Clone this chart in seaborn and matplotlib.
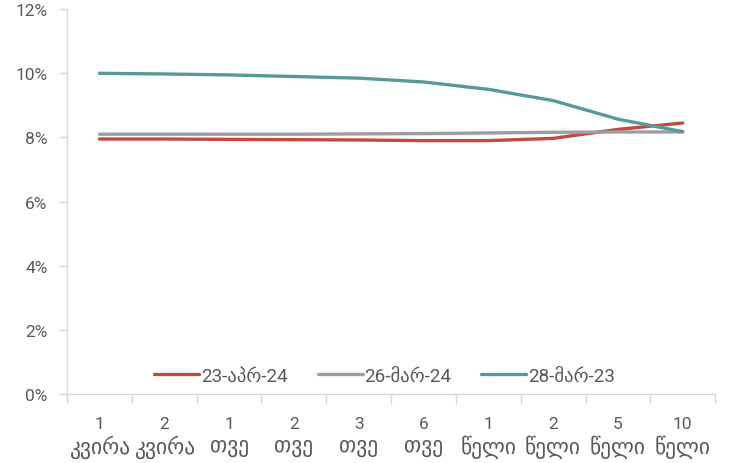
import matplotlib
matplotlib.use("Agg")
import matplotlib.pyplot as plt
import seaborn as sns
import pandas as pd
from matplotlib.ticker import FixedLocator, FuncFormatter

tenor_numbers = ["1", "2", "1", "2", "3", "6", "1", "2", "5", "10"]
tenor_units = ["კვირა", "კვირა", "თვე", "თვე", "თვე", "თვე", "წელი", "წელი", "წელი", "წელი"]
series_names = ["23-აპრ-24", "26-მარ-24", "28-მარ-23"]
apr24 = [7.95, 7.95, 7.94, 7.93, 7.92, 7.90, 7.90, 7.97, 8.25, 8.45]
mar24 = [8.10, 8.10, 8.10, 8.10, 8.11, 8.12, 8.14, 8.16, 8.17, 8.17]
mar23 = [10.00, 9.98, 9.95, 9.90, 9.85, 9.73, 9.50, 9.15, 8.57, 8.18]
colors = ["#BE4B3C", "#9C9EA2", "#5A9A96"]

rows = []
for name, vals in zip(series_names, [apr24, mar24, mar23]):
    for i, v in enumerate(vals):
        rows.append({"pos": i, "value": v, "series": name})
df = pd.DataFrame(rows)

sns.set_theme(style="white")
fams = ["Roboto", "DejaVu Sans"]
plt.rcParams["font.family"] = fams

fig = plt.figure(figsize=(7.29, 4.64), dpi=100)
ax = fig.add_axes([0.092, 0.149, 0.889, 0.829])

sns.lineplot(data=df, x="pos", y="value", hue="series", hue_order=series_names,
             palette=colors, linewidth=2.4, ax=ax, legend=True)

ax.set_xlim(-0.5, 9.5)
ax.set_ylim(0, 12)
ax.set_yticks(range(0, 13, 2))
ax.yaxis.set_major_formatter(FuncFormatter(lambda v, p: f"{int(v)}%"))
ax.set_xlabel("")
ax.set_ylabel("")

ax.xaxis.set_major_locator(FixedLocator([i - 0.5 for i in range(11)]))
ax.xaxis.set_minor_locator(FixedLocator(list(range(10))))
ax.set_xticklabels([], minor=False)
ax.set_xticklabels(tenor_numbers, minor=True)
ax.tick_params(axis="x", which="major", length=7, color="#D9D9D9", width=1, direction="out", bottom=True)
ax.tick_params(axis="x", which="minor", length=0, pad=16, labelsize=12.5, labelcolor="#595959")
ax.tick_params(axis="y", length=6, color="#D9D9D9", width=1, direction="out", left=True,
               labelsize=12.5, labelcolor="#595959", pad=8)

trans = ax.get_xaxis_transform()
for i, u in enumerate(tenor_units):
    ax.text(i, -0.135, u, transform=trans, ha="center", va="center",
            fontsize=15.5, color="#595959", family=fams)

for s in ["top", "right"]:
    ax.spines[s].set_visible(False)
for s in ["left", "bottom"]:
    ax.spines[s].set_color("#D9D9D9")
    ax.spines[s].set_linewidth(1)

leg = ax.legend(loc="lower center", bbox_to_anchor=(0.49, -0.02), ncol=3, frameon=False,
                fontsize=13.5, handlelength=2.4, handletextpad=0.1, columnspacing=1.6)
for t in leg.get_texts():
    t.set_color("#595959")
for h in leg.get_lines():
    h.set_linewidth(2.4)

fig.savefig("out.png", dpi=100)
